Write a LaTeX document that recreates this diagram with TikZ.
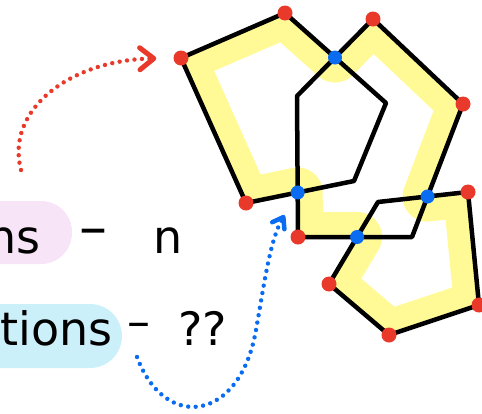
\documentclass[tikz,border=0pt]{standalone}
\usepackage{fontspec}
\setmainfont{DejaVu Sans}
\usepackage{xcolor}
\usetikzlibrary{arrows.meta, positioning, calc}
\definecolor{dotred}{RGB}{232,57,42}
\definecolor{dotblue}{RGB}{10,108,240}
\definecolor{marker}{RGB}{255,250,150}
\definecolor{pinkhl}{RGB}{247,228,247}
\definecolor{bluehl}{RGB}{204,240,250}

\begin{document}
\begin{tikzpicture}[x=1pt, y=-1pt,
    vtx/.style={circle, fill=dotred, minimum size=15pt, inner sep=0pt},
    meet/.style={circle, fill=dotblue, minimum size=14pt, inner sep=0pt},
    side/.style={line width=4.5pt, line join=round},
    word/.style={font=\fontsize{46}{46}\selectfont, inner sep=0pt, anchor=base west},
    dots/.style={line width=4.4pt, line cap=round, dash pattern=on 0pt off 7.5pt}]
    \useasboundingbox (0,0) rectangle (482,413);

    % highlighted words
    \fill[pinkhl, rounded corners=31pt] (-40,201) rectangle (72,264);
    \fill[bluehl, rounded corners=32pt] (-40,304) rectangle (122,368);
    \node[word, anchor=base east] (ns) at (41,253) {ns};
    \node[word, font=\fontsize{56}{56}\selectfont] (dash1) at (79,246) {\textendash};
    \node[word] (n) at (153,253) {n};
    \node[word, anchor=base east] (tions) at (113,345) {tions};
    \node[word] (dash2) at (127,337) {\textendash};
    \node[word] (qq) at (178,345) {??};

    % the three pentagons
    \coordinate (a1) at (181,58);  \coordinate (a2) at (285,13);
    \coordinate (a3) at (386,103); \coordinate (a4) at (354,181);
    \coordinate (a5) at (246,203);
    \coordinate (b1) at (373,19);  \coordinate (b2) at (463,104);
    \coordinate (b3) at (412,237); \coordinate (b4) at (298,237);
    \coordinate (b5) at (297,96);
    \coordinate (c1) at (468,192); \coordinate (c2) at (479,305);
    \coordinate (c3) at (389,335); \coordinate (c4) at (329,284);
    \coordinate (c5) at (378,202);

    % crossings
    \coordinate (x1) at (intersection of a2--a3 and b5--b1);
    \coordinate (x2) at (intersection of a4--a5 and b5--b4);
    \coordinate (x3) at (intersection of b2--b3 and c5--c1);
    \coordinate (x4) at (intersection of b3--b4 and c4--c5);

    % marker along the outline
    \begin{scope}
        \clip (a1) -- (a2) -- (x1) -- (b1) -- (b2) -- (x3) -- (c1) -- (c2)
            -- (c3) -- (c4) -- (x4) -- (b4) -- (x2) -- (a5) -- cycle;
        \draw[marker, line width=50pt, line join=round] (a1) -- (a2) -- (x1)
            -- (b1) -- (b2) -- (x3) -- (c1) -- (c2) -- (c3) -- (c4) -- (x4)
            -- (b4) -- (x2) -- (a5) -- cycle;
    \end{scope}

    \draw[side] (a1) -- (a2) -- (a3) -- (a4) -- (a5) -- cycle;
    \draw[side] (b1) -- (b2) -- (b3) -- (b4) -- (b5) -- cycle;
    \draw[side] (c1) -- (c2) -- (c3) -- (c4) -- (c5) -- cycle;

    \foreach \v in {a1,a2,a5,b1,b2,b4,c1,c2,c3,c4}
        \node[vtx] (d\v) at (\v) {};
    \foreach \v in {x1,x2,x3,x4}
        \node[meet] (d\v) at (\v) {};

    % pointers
    \coordinate (rtail) at (21,170);
    \coordinate (btail) at (137,357);
    \draw[dots, dotred, shorten >=17pt,
        -{Straight Barb[length=14pt, width=22pt, line width=5pt, round]}]
        (rtail) .. controls (5,110) and (70,60) .. (da1);
    \draw[dots, dotblue, shorten >=19pt,
        -{Straight Barb[length=10pt, width=14pt, line width=4.5pt, round]}]
        (btail) .. controls (165,432) and (240,422) .. (256,330)
        .. controls (264,285) and (270,240) .. (dx2);
\end{tikzpicture}
\end{document}
